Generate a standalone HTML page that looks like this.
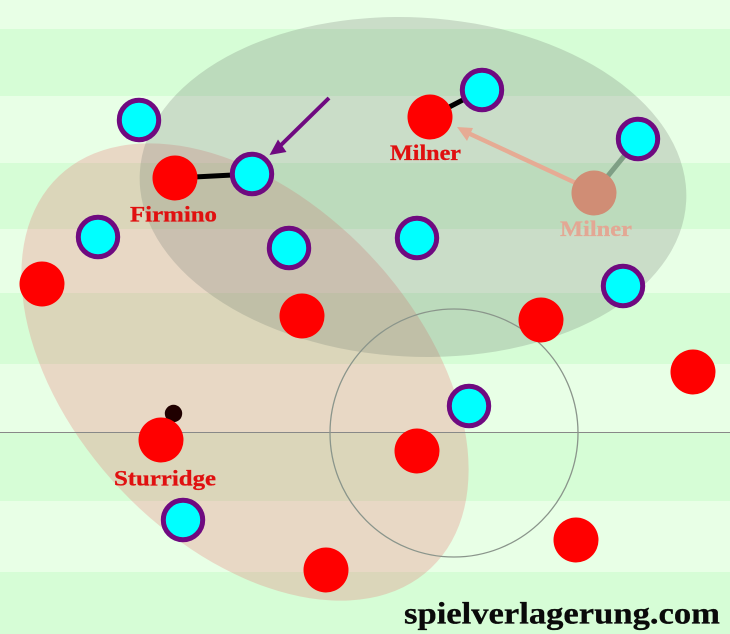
<!DOCTYPE html>
<html><head><meta charset="utf-8"><style>html,body{margin:0;padding:0;width:730px;height:634px;overflow:hidden;background:#e8ffe6}svg{display:block;overflow:hidden}text{font-family:"Liberation Serif",serif;font-weight:bold}</style></head><body>
<svg width="730" height="634" viewBox="0 0 730 634" xmlns="http://www.w3.org/2000/svg">
<rect width="730" height="634" fill="#e8ffe6"/>
<g fill="#d6fdd6"><rect y="29" width="730" height="67"/><rect y="163" width="730" height="66"/><rect y="293" width="730" height="71"/><rect y="433" width="730" height="68"/><rect y="572" width="730" height="62"/></g>
<g style="filter:blur(.35px)">
<path d="M59 176A270 171 46.5 1 1 431 568A270 171 46.5 1 1 59 176Z" fill="rgb(232,125,123)" fill-opacity=".3"/>
<path d="M139.800 172.700A273.500 169.500 3 1 1 686.200 201.300A273.500 169.500 3 1 1 139.800 172.700Z" fill="rgb(112,118,112)" fill-opacity=".25"/>
<line x1="0" y1="432.500" x2="730" y2="432.500" stroke="#888" stroke-width="1"/>
<circle cx="454" cy="433" r="124" fill="none" stroke="#8a958b" stroke-width="1.300"/>
<circle cx="173.500" cy="413.500" r="8.700" fill="#200000"/>
<line x1="175" y1="178" x2="252" y2="174" stroke="#000" stroke-width="5"/>
<line x1="430" y1="117" x2="482" y2="90" stroke="#000" stroke-width="5"/>
<line x1="594" y1="193" x2="638" y2="139" stroke="#7f9f85" stroke-width="5"/>
<line x1="329" y1="98" x2="280" y2="146" stroke="#6f0a80" stroke-width="4"/>
<polygon points="269.500,155 278,139.500 286.500,152" fill="#6f0a80"/>
<line x1="578" y1="184" x2="468" y2="133" stroke="#e6ab94" stroke-width="4.500"/>
<polygon points="457,127 473,128 467,141" fill="#e6ab94"/>
<g fill="#f00">
<circle cx="175" cy="178" r="22.500"/><circle cx="42" cy="284" r="22.500"/><circle cx="302" cy="316" r="22.500"/><circle cx="430" cy="117" r="22.500"/><circle cx="541" cy="320" r="22.500"/><circle cx="693" cy="372" r="22.500"/><circle cx="417" cy="451" r="22.500"/><circle cx="161" cy="440" r="22.500"/><circle cx="576" cy="540" r="22.500"/><circle cx="326" cy="570" r="22.500"/>
</g>
<circle cx="594" cy="193" r="22.500" fill="#d08d75"/>
<g fill="#0ff" stroke="#6f0a80" stroke-width="5">
<circle cx="139" cy="120" r="19.700"/><circle cx="252" cy="174" r="19.700"/><circle cx="98" cy="237" r="19.700"/><circle cx="289" cy="248" r="19.700"/><circle cx="417" cy="238" r="19.700"/><circle cx="482" cy="90" r="19.700"/><circle cx="638" cy="139" r="19.700"/><circle cx="623" cy="286" r="19.700"/><circle cx="469" cy="406" r="19.700"/><circle cx="183" cy="520" r="19.700"/>
</g>
<g font-size="22" fill="#e01010" stroke="#e01010" stroke-width=".3">
<text x="130" y="221.500" textLength="87" lengthAdjust="spacingAndGlyphs">Firmino</text>
<text x="390" y="160" textLength="71" lengthAdjust="spacingAndGlyphs">Milner</text>
<text x="114" y="485.500" textLength="102" lengthAdjust="spacingAndGlyphs">Sturridge</text>
<text x="560" y="236" textLength="72" lengthAdjust="spacingAndGlyphs" fill="#e3a794" stroke="#e3a794">Milner</text>
</g>
<text x="404" y="623.500" font-size="31" fill="#0a0a0a" stroke="#0a0a0a" stroke-width=".3" textLength="316" lengthAdjust="spacingAndGlyphs">spielverlagerung.com</text>
</g>
</svg>
</body></html>
